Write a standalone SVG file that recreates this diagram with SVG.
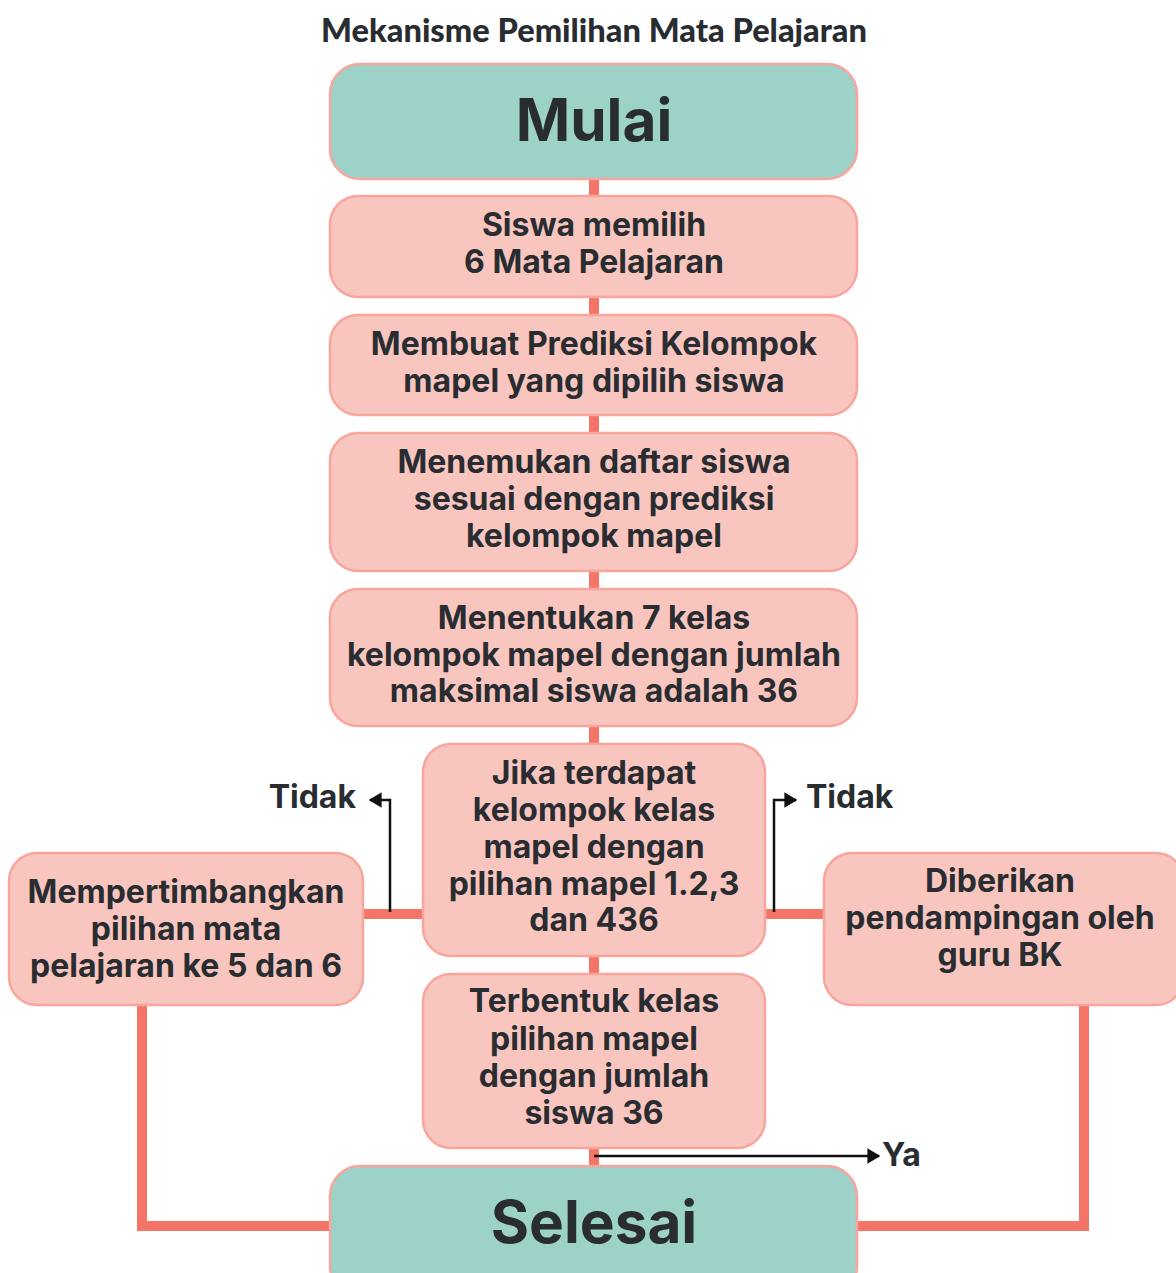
<svg xmlns="http://www.w3.org/2000/svg" width="1176" height="1273" viewBox="0 0 1176 1273">
<style>
.title{font-family:Lato,"Liberation Sans",sans-serif;font-weight:900;font-size:32.6px;fill:#292d31;text-anchor:middle}
.t{font-family:Inter,"Liberation Sans",sans-serif;font-weight:700;font-size:32px;fill:#292d31;text-anchor:middle}
.big{font-family:Inter,"Liberation Sans",sans-serif;font-weight:700;font-size:58.5px;fill:#292d31;text-anchor:middle}
.lbl{font-family:Inter,"Liberation Sans",sans-serif;font-weight:700;font-size:32px;fill:#292d31}
.pink{fill:#f8c6bf;stroke:#f8a59d;stroke-width:2.5}
.teal{fill:#9dd2c9;stroke:#f8a59d;stroke-width:2.5}
.conn{fill:none;stroke:#f47468;stroke-width:10}
.arr{fill:none;stroke:#111;stroke-width:2.5}
</style>
<defs>
<marker id="ah" viewBox="0 0 10 12" refX="9" refY="6" markerWidth="5.2" markerHeight="6.2" orient="auto" markerUnits="strokeWidth">
<path d="M0,0 L10,6 L0,12 Z" fill="#111"/>
</marker>
</defs>
<rect width="1176" height="1273" fill="#fff"/>
<text class="title" x="594" y="42">Mekanisme Pemilihan Mata Pelajaran</text>
<g id="connectors">
<line class="conn" x1="594" y1="179" x2="594" y2="1166"/>
<line class="conn" x1="363" y1="914" x2="423" y2="914"/>
<line class="conn" x1="765" y1="914" x2="824" y2="914"/>
<polyline class="conn" points="142,1005 142,1226 330,1226"/>
<polyline class="conn" points="1084,1005 1084,1226 857,1226"/>
<polyline class="arr" points="390,912 390,800 370,800" marker-end="url(#ah)"/>
<polyline class="arr" points="774,912 774,800 796,800" marker-end="url(#ah)"/>
<line class="arr" x1="594" y1="1156" x2="879" y2="1156" marker-end="url(#ah)"/>
<text class="lbl" x="356" y="808" text-anchor="end">Tidak</text>
<text class="lbl" x="806" y="808">Tidak</text>
<text class="lbl" x="882" y="1166">Ya</text>
</g>
<g id="mulai">
<rect class="teal" x="330" y="64" width="527" height="115" rx="30"/>
<text class="big" x="594" y="141">Mulai</text>
</g>
<g id="step1">
<rect class="pink" x="330" y="196" width="527" height="101" rx="28"/>
<text class="t" x="594" y="236">Siswa memilih</text>
<text class="t" x="594" y="273">6 Mata Pelajaran</text>
</g>
<g id="step2">
<rect class="pink" x="330" y="315" width="527" height="100" rx="28"/>
<text class="t" x="594" y="355">Membuat Prediksi Kelompok</text>
<text class="t" x="594" y="392">mapel yang dipilih siswa</text>
</g>
<g id="step3">
<rect class="pink" x="330" y="433" width="527" height="138" rx="28"/>
<text class="t" x="594" y="473">Menemukan daftar siswa</text>
<text class="t" x="594" y="510">sesuai dengan prediksi</text>
<text class="t" x="594" y="547">kelompok mapel</text>
</g>
<g id="step4">
<rect class="pink" x="330" y="589" width="527" height="137" rx="28"/>
<text class="t" x="594" y="629">Menentukan 7 kelas</text>
<text class="t" x="594" y="666">kelompok mapel dengan jumlah</text>
<text class="t" x="594" y="702">maksimal siswa adalah 36</text>
</g>
<g id="decision">
<rect class="pink" x="423" y="744" width="342" height="212" rx="28"/>
<text class="t" x="594" y="784">Jika terdapat</text>
<text class="t" x="594" y="821">kelompok kelas</text>
<text class="t" x="594" y="858">mapel dengan</text>
<text class="t" x="594" y="895">pilihan mapel 1.2,3</text>
<text class="t" x="594" y="931">dan 436</text>
</g>
<g id="left">
<rect class="pink" x="9" y="853" width="354" height="152" rx="28"/>
<text class="t" x="186" y="903">Mempertimbangkan</text>
<text class="t" x="186" y="940">pilihan mata</text>
<text class="t" x="186" y="977">pelajaran ke 5 dan 6</text>
</g>
<g id="right">
<rect class="pink" x="824" y="853" width="360" height="152" rx="28"/>
<text class="t" x="1000" y="892">Diberikan</text>
<text class="t" x="1000" y="929">pendampingan oleh</text>
<text class="t" x="1000" y="966">guru BK</text>
</g>
<g id="step5">
<rect class="pink" x="423" y="974" width="342" height="174" rx="28"/>
<text class="t" x="594" y="1012">Terbentuk kelas</text>
<text class="t" x="594" y="1050">pilihan mapel</text>
<text class="t" x="594" y="1087">dengan jumlah</text>
<text class="t" x="594" y="1124">siswa 36</text>
</g>
<g id="selesai">
<rect class="teal" x="330" y="1166" width="527" height="130" rx="30"/>
<text class="big" x="594" y="1243">Selesai</text>
</g>
</svg>
